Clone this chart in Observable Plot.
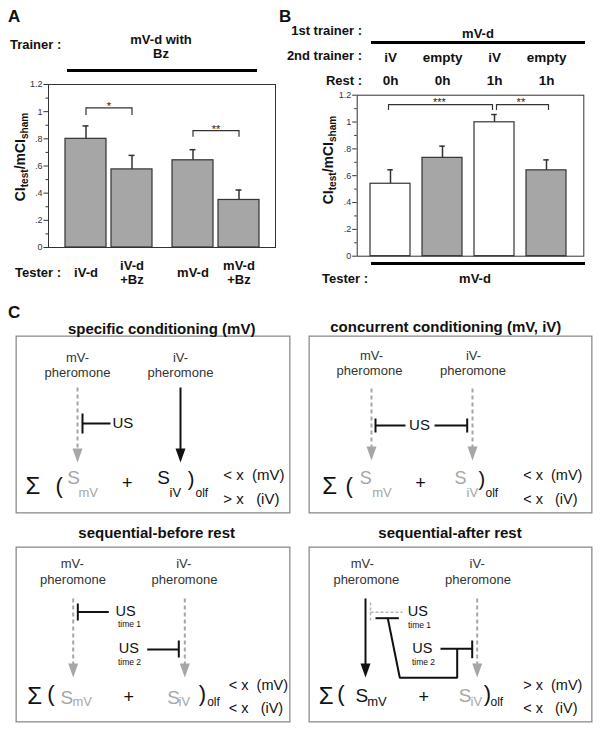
<!DOCTYPE html>
<html><head><meta charset="utf-8">
<script src="https://cdn.jsdelivr.net/npm/d3@7"></script>
<script src="https://cdn.jsdelivr.net/npm/@observablehq/plot@0.6"></script>
<style>
body{margin:0;background:#fff;}
#root{position:relative;width:601px;height:732px;overflow:hidden;font-family:"Liberation Sans",Arial,Helvetica,sans-serif;color:#111;background:#fff;}
.t{position:absolute;white-space:nowrap;line-height:1;}
.t sub{font-size:0.72em;vertical-align:-0.3em;line-height:0;}
.abs{position:absolute;}
</style></head><body><div id="root"></div>
<script>
// ---------------- data ----------------
// Panel A
const testerA = ["iV-d", "iV-d\n+Bz", "mV-d", "mV-d\n+Bz"];
const odorA   = ["iV-d", "iV-d", "mV-d", "mV-d"];
const bzA     = ["none", "Bz", "none", "Bz"];
const meanA   = [0.800, 0.575, 0.642, 0.350];
const errA    = [0.095, 0.103, 0.078, 0.073];
const sigOdorA  = ["iV-d", "mV-d"];
const sigLabelA = ["*", "**"];
const sigLevelA = [1.028, 0.861];
const sigLegA   = [0.971, 0.811];
// Panel B
const secondB = ["iV", "empty", "iV", "empty"];
const restB   = ["0h", "0h", "1h", "1h"];
const meanB   = [0.540, 0.733, 0.998, 0.640];
const errB    = [0.104, 0.087, 0.058, 0.078];
const sigFromB  = [0, 2];
const sigToB    = [2, 3];
const sigLabelB = ["***", "**"];
const sigLevelB = [1.13, 1.13];
const sigLegB   = [1.086, 1.086];
// shared axis
const yTicks = [0, 0.2, 0.4, 0.6, 0.8, 1, 1.2];
const yMinor = [0.1, 0.3, 0.5, 0.7, 0.9, 1.1];

// ---------------- helpers ----------------
const FONT = '"Liberation Sans", Arial, Helvetica, sans-serif';
const GRAY = "#a6a6a6";
const root = document.getElementById("root");
const fmt = d => String(d).replace(/^0\./, ".");

function label(x, y, html, o = {}) {
  const d = document.createElement("div");
  d.className = "t";
  d.innerHTML = html;
  const tx = o.anchor === "start" ? "0" : o.anchor === "end" ? "-100%" : "-50%";
  d.style.left = x + "px";
  d.style.top = y + "px";
  d.style.fontSize = (o.size || 13) + "px";
  d.style.fontWeight = o.weight || "bold";
  d.style.color = o.color || "#111";
  if (o.lh) d.style.lineHeight = o.lh;
  if (o.center) d.style.textAlign = "center";
  d.style.transform = `translate(${tx},-50%)` + (o.rotate ? ` rotate(${o.rotate}deg)` : "");
  root.appendChild(d);
  return d;
}
function bar(x, y, w, h) {
  const d = document.createElement("div");
  d.className = "abs";
  Object.assign(d.style, {left: x + "px", top: y + "px", width: w + "px", height: h + "px", background: "#000"});
  root.appendChild(d);
}
function put(svg, x, y) {
  svg.style.position = "absolute";
  svg.style.left = x + "px";
  svg.style.top = y + "px";
  root.appendChild(svg);
}
function axisMarks() {
  return [
    Plot.axisY({ticks: yMinor, tickSize: 2.5, tickFormat: () => "", color: "#333", label: null}),
    Plot.axisY({ticks: yTicks, tickSize: 4.5, tickPadding: 1.5, tickFormat: fmt, fontSize: 9, color: "#333", label: null})
  ];
}
const plotStyle = {fontFamily: FONT, background: "transparent", overflow: "visible"};

// ---------------- Panel A ----------------
const dataA = testerA.map((t, i) => ({tester: t, odor: odorA[i], bz: bzA[i], mean: meanA[i], top: meanA[i] + errA[i]}));
const sigA = sigOdorA.map((o, i) => ({odor: o, label: sigLabelA[i], level: sigLevelA[i], leg: sigLegA[i]}));
const legsA = sigA.flatMap(s => ["none", "Bz"].map(b => ({odor: s.odor, bz: b, level: s.level, leg: s.leg})));
const dimA = {width: 290, height: 290, marginLeft: 48, marginRight: 15, marginTop: 84, marginBottom: 43};

put(Plot.plot({...dimA, style: plotStyle, y: {domain: [0, 1.2]},
  marks: [...axisMarks(), Plot.frame({stroke: "#333", strokeWidth: 1})]}), 0, 0);

put(Plot.plot({...dimA, style: plotStyle,
  fx: {domain: sigOdorA, paddingInner: 0.19, paddingOuter: 0.152, axis: null, label: null},
  x: {domain: ["none", "Bz"], paddingInner: 0.11, paddingOuter: 0, axis: null, label: null},
  y: {domain: [0, 1.2], axis: null},
  marks: [
    Plot.ruleX(dataA, {fx: "odor", x: "bz", y1: "mean", y2: "top", stroke: "#333", strokeWidth: 1.5}),
    Plot.tickY(dataA, {fx: "odor", x: "bz", y: "top", stroke: "#333", strokeWidth: 1.5, insetLeft: 17.5, insetRight: 17.5}),
    Plot.barY(dataA, {fx: "odor", x: "bz", y: "mean", fill: GRAY, stroke: "#333", strokeWidth: 1.2}),
    Plot.link(sigA, {fx: "odor", x1: () => "none", x2: () => "Bz", y1: "level", y2: "level", stroke: "#333", strokeWidth: 1.2}),
    Plot.ruleX(legsA, {fx: "odor", x: "bz", y1: "leg", y2: "level", stroke: "#333", strokeWidth: 1.2}),
    Plot.text(sigA, {fx: "odor", y: "level", text: "label", fontSize: 11, dy: -1.5, fill: "#222"}),
    Plot.text(dataA, {fx: "odor", x: "bz", y: () => 0, text: "tester", dy: 25, fontSize: 13, fontWeight: "bold", lineHeight: 1.08, fill: "#111"})
  ]}), 0, 0);

label(8, 16, "A", {size: 17, anchor: "start"});
label(10, 44, "Trainer :", {anchor: "start"});
label(161, 47, "mV-d with<br>Bz", {center: true, lh: "14px"});
bar(67, 68.5, 190, 3);
label(15, 272, "Tester :", {anchor: "start"});
label(20, 157, "CI<sub>test</sub>/mCI<sub>sham</sub>", {size: 14, rotate: -90});

// ---------------- Panel B ----------------
const dataB = secondB.map((s, i) => ({key: s + " " + restB[i], second: s, rest: restB[i], mean: meanB[i], top: meanB[i] + errB[i]}));
const keysB = dataB.map(d => d.key);
const dimB = {width: 311, height: 265, marginLeft: 66.7, marginRight: 17.7, marginTop: 94.7, marginBottom: 9.3};
const insL = 11.6, insR = 16.1, padB = 0.233;
const stepB = (dimB.width - dimB.marginLeft - dimB.marginRight - insL - insR) / (keysB.length - padB);
const sigB = sigFromB.map((f, i) => ({from: f, to: sigToB[i], label: sigLabelB[i], level: sigLevelB[i], leg: sigLegB[i]}));
const bracketMarks = sigB.flatMap((s, j) => {
  const dx = j === 0 ? -2 : 2;
  return [
    Plot.link([s], {x1: () => keysB[s.from], x2: () => keysB[s.to], y1: "level", y2: "level", dx, stroke: "#333", strokeWidth: 1.2}),
    Plot.ruleX([s.from, s.to].map(k => ({key: keysB[k], level: s.level, leg: s.leg})), {x: "key", y1: "leg", y2: "level", dx, stroke: "#333", strokeWidth: 1.2}),
    Plot.text([s], {x: () => keysB[s.from], y: "level", text: "label", fontSize: 11, dx: (s.to - s.from) * stepB / 2 + dx - 2, dy: -2.5, fill: "#222"})
  ];
});
put(Plot.plot({...dimB, style: plotStyle,
  x: {domain: keysB, paddingInner: padB, paddingOuter: 0, insetLeft: insL, insetRight: insR, axis: null, label: null},
  y: {domain: [0, 1.2]},
  color: {type: "identity"},
  marks: [
    ...axisMarks(),
    Plot.ruleX(dataB, {x: "key", y1: "mean", y2: "top", stroke: "#333", strokeWidth: 1.5}),
    Plot.tickY(dataB, {x: "key", y: "top", stroke: "#333", strokeWidth: 1.5, insetLeft: 17.25, insetRight: 17.25}),
    Plot.barY(dataB, {x: "key", y: "mean", fill: d => d.second === "iV" ? "#ffffff" : GRAY, stroke: "#333", strokeWidth: 1.2}),
    ...bracketMarks,
    Plot.text(dataB, {x: "key", y: () => 1.2, text: "second", dy: -37.7, fontSize: 13.5, fontWeight: "bold", fill: "#111"}),
    Plot.text(dataB, {x: "key", y: () => 1.2, text: "rest", dy: -14.7, fontSize: 13.5, fontWeight: "bold", fill: "#111"}),
    Plot.frame({stroke: "#333", strokeWidth: 1})
  ]}), 290, 0);

label(279, 16, "B", {size: 17, anchor: "start"});
label(362, 30, "1st trainer :", {anchor: "end"});
label(362, 55, "2nd trainer :", {anchor: "end"});
label(362, 80, "Rest :", {anchor: "end"});
label(478, 33, "mV-d");
bar(371, 40.5, 214, 3);
bar(371, 262, 214, 3);
label(322, 278, "Tester :", {anchor: "start"});
label(475, 278, "mV-d");
label(327.5, 160, "CI<sub>test</sub>/mCI<sub>sham</sub>", {size: 14, rotate: -90});

// ---------------- Panel C (schematics) ----------------
const K = "#111";
function T(x, y, text, o = {}) {
  return {x, y, text, size: o.size ?? 13, color: o.color ?? K, anchor: o.anchor ?? "middle", line: o.line ?? "middle"};
}
const L = (pts, color = K, dash = null, w = 2) => ({pts, color, dash, w});
const headSym = {draw(ctx) { ctx.moveTo(0, 0); ctx.lineTo(-5, -14); ctx.lineTo(5, -14); ctx.closePath(); }};
const S = (x, y, t, size, color) => T(x, y, t, {size, color, anchor: "start", line: "bottom"});

const boxes = [
  {x: 15, y: 335, w: 275, h: 178, title: "specific conditioning (mV)", tx: 161.7, ty: 328.3,
   texts: [
     T(62, 22, "mV-", {color: "#333"}), T(62, 37, "pheromone", {color: "#333"}),
     T(165, 22, "iV-", {color: "#333"}), T(165, 37, "pheromone", {color: "#333"}),
     T(97, 88, "US", {size: 15, anchor: "start"}),
     S(10, 158, "Σ", 24, K), S(40, 157, "(", 22, K),
     S(51.7, 148.5, "S", 19, GRAY), S(63, 161.7, "mV", 13, GRAY),
     T(111.7, 148, "+", {size: 18}),
     S(141.7, 148.5, "S", 19, K), S(154, 161.7, "iV", 13, K),
     S(172.3, 150, ")", 20, K), S(180, 161.7, "olf", 12, K),
     T(207.7, 139.3, "< x  (mV)", {size: 15, anchor: "start"}),
     T(207.7, 164, "> x   (iV)", {size: 15, anchor: "start"})
   ],
   lines: [L([[62, 52], [62, 114]], GRAY, "4,3"), L([[67, 78], [67, 98]]), L([[67, 88], [95, 88]]), L([[165, 52], [165, 114]])],
   heads: [{x: 62, y: 127, c: GRAY}, {x: 165, y: 127, c: K}]},
  {x: 308, y: 335, w: 284, h: 178, title: "concurrent conditioning (mV, iV)", tx: 445.8, ty: 326,
   texts: [
     T(63, 20, "mV-", {color: "#333"}), T(61, 35, "pheromone", {color: "#333"}),
     T(165, 20, "iV-", {color: "#333"}), T(164.5, 35, "pheromone", {color: "#333"}),
     T(111, 90, "US", {size: 15}),
     S(13.7, 158, "Σ", 24, K), S(37, 157, "(", 22, K),
     S(51.3, 148.5, "S", 18, GRAY), S(63.7, 161.7, "mV", 13, GRAY),
     T(112, 148, "+", {size: 18}),
     S(146, 148.5, "S", 18, GRAY), S(158, 161.7, "iV", 13, GRAY),
     S(170, 150, ")", 20, K), S(177, 161.7, "olf", 12, K),
     T(214.7, 140, "< x  (mV)", {size: 14.5, anchor: "start"}),
     T(214.7, 164, "< x   (iV)", {size: 14.5, anchor: "start"})
   ],
   lines: [L([[63, 53], [63, 112]], GRAY, "4,3"), L([[164, 53], [164, 112]], GRAY, "4,3"),
           L([[67, 83], [67, 97]]), L([[67, 90], [97, 90]]), L([[126, 90], [158.7, 90]]), L([[158.7, 83], [158.7, 97]])],
   heads: [{x: 63, y: 125, c: GRAY}, {x: 164, y: 125, c: GRAY}]},
  {x: 15, y: 546, w: 275, h: 176, title: "sequential-before rest", tx: 156.7, ty: 531.7,
   texts: [
     T(56.7, 17, "mV-", {color: "#333"}), T(57.5, 33, "pheromone", {color: "#333"}),
     T(168.3, 17, "iV-", {color: "#333"}), T(169, 33, "pheromone", {color: "#333"}),
     T(100, 64.5, "US", {size: 14.5, anchor: "start"}), T(114, 78, "time 1", {size: 8.5}),
     T(103.3, 102, "US", {size: 14.5, anchor: "start"}), T(114, 115.5, "time 2", {size: 8.5}),
     S(11.7, 157.3, "Σ", 24, K), S(31.7, 154.5, "(", 22, K),
     S(45, 157.3, "S", 19, GRAY), S(57, 159.7, "mV", 13, GRAY),
     T(113.3, 150.7, "+", {size: 18}),
     S(151.7, 157.3, "S", 19, GRAY), S(163, 159.7, "iV", 13, GRAY),
     S(183.3, 154.7, ")", 22, K), S(191.7, 159, "olf", 12, K),
     T(213.3, 139, "< x  (mV)", {size: 14.5, anchor: "start"}),
     T(213.3, 161.7, "< x   (iV)", {size: 14.5, anchor: "start"})
   ],
   lines: [L([[57.7, 52], [57.7, 118]], GRAY, "4,3"), L([[62.3, 57], [62.3, 74]]), L([[62.3, 65.5], [93.3, 65.5]]),
           L([[131.7, 103], [163.3, 103]]), L([[163.3, 94], [163.3, 111]]), L([[169.3, 52], [169.3, 118]], GRAY, "4,3")],
   heads: [{x: 57.7, y: 131, c: GRAY}, {x: 169.3, y: 131, c: GRAY}]},
  {x: 308, y: 546, w: 284, h: 176, title: "sequential-after rest", tx: 450, ty: 531.7,
   texts: [
     T(53.7, 17.3, "mV-", {color: "#333"}), T(57.8, 33, "pheromone", {color: "#333"}),
     T(168.7, 17.3, "iV-", {color: "#333"}), T(169.5, 33, "pheromone", {color: "#333"}),
     T(99.3, 64.5, "US", {size: 14.5, anchor: "start"}), T(111, 79, "time 1", {size: 8.5}),
     T(103.7, 102, "US", {size: 14.5, anchor: "start"}), T(115, 115.5, "time 2", {size: 8.5}),
     S(10.3, 157.3, "Σ", 24, K), S(28.7, 154.5, "(", 22, K),
     S(47, 155.7, "S", 19, K), S(58.7, 159, "mV", 13, K),
     T(115.3, 150.7, "+", {size: 18}),
     S(150.3, 155.7, "S", 19, GRAY), S(162, 159, "iV", 13, GRAY),
     S(175.3, 154.5, ")", 22, K), S(182, 159, "olf", 12, K),
     T(214.7, 139, "> x  (mV)", {size: 14.5, anchor: "start"}),
     T(214.7, 161.7, "< x   (iV)", {size: 14.5, anchor: "start"})
   ],
   lines: [L([[57, 52], [57, 118]]),
           L([[62, 56], [62, 74]], "#b5b5b5", "3,2", 1.5), L([[62, 65.7], [94, 65.7]], "#b5b5b5", "3,2", 1.5),
           L([[67, 71.7], [90.3, 71.7]]),
           L([[79.3, 71.7], [91.3, 131.3], [148.7, 131.3], [148.7, 102.3]]),
           L([[132, 102.3], [163.7, 102.3]]), L([[163.7, 94], [163.7, 111.7]]),
           L([[168.7, 52], [168.7, 118]], GRAY, "4,3")],
   heads: [{x: 57, y: 131, c: K}, {x: 168.7, y: 131, c: GRAY}]}
];

for (const b of boxes) {
  const groups = d3.groups(b.texts, t => t.anchor + "|" + t.line);
  const marks = [
    Plot.frame({stroke: "#8c8c8c", strokeWidth: 1.3, inset: 0.65}),
    ...b.lines.map(l => Plot.line(l.pts, {x: d => d[0], y: d => d[1], stroke: l.color, strokeWidth: l.w, strokeDasharray: l.dash, strokeLinejoin: "miter", strokeLinecap: "butt"})),
    Plot.dot(b.heads, {x: "x", y: "y", fill: "c", symbol: headSym, stroke: null}),
    ...groups.map(([key, ts]) => {
      const [anchor, line] = key.split("|");
      return Plot.text(ts, {x: "x", y: "y", text: "text", fontSize: "size", fill: "color", textAnchor: anchor, lineAnchor: line});
    })
  ];
  put(Plot.plot({width: b.w, height: b.h, margin: 0, style: plotStyle,
    x: {domain: [0, b.w], range: [0, b.w], axis: null},
    y: {domain: [0, b.h], range: [0, b.h], axis: null},
    color: {type: "identity"}, marks}), b.x, b.y);
  label(b.tx, b.ty, b.title, {size: 15});
}
label(8, 312, "C", {size: 17, anchor: "start"});
</script></body></html>
